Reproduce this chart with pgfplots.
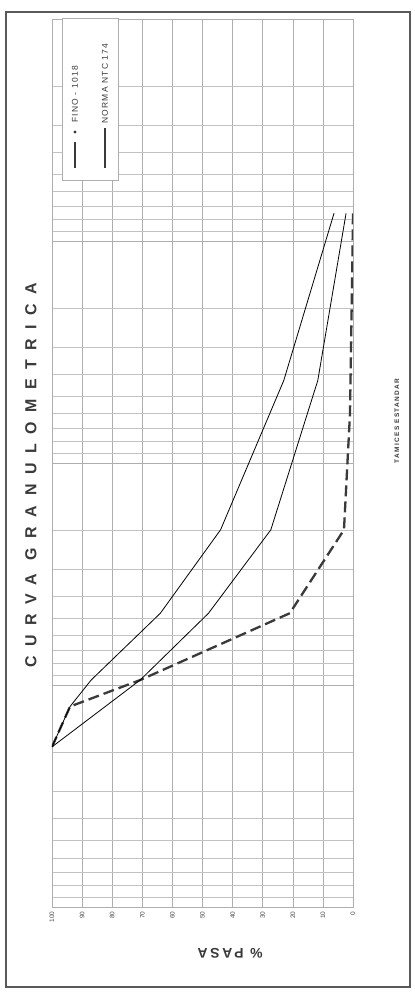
\documentclass[border=0pt]{standalone}
\usepackage{pgfplots}
\pgfplotsset{compat=1.18}
\usepackage{fontspec}
\setmainfont{Liberation Sans}
\newfontfamily\titlefont[LetterSpace=60]{Liberation Sans}
\newfontfamily\legfont[LetterSpace=15]{Liberation Sans}
\newfontfamily\labfont[LetterSpace=20]{Liberation Sans}
\definecolor{ink}{HTML}{3A3A3A}
\definecolor{thin}{HTML}{707070}
\definecolor{gridc}{HTML}{AEAEAE}
\begin{document}
\begin{tikzpicture}[x=1bp,y=1bp]
\useasboundingbox (0,0) rectangle (414,992);
\fill[white] (0,0) rectangle (414,992);
\begin{axis}[
  at={(52bp,85bp)}, anchor=south west,
  scale only axis, width=301bp, height=888bp,
  xmin=0, xmax=100, x dir=reverse,
  ymode=log, ymin=0.01, ymax=100, y dir=reverse,
  xtick={0,10,...,100},
  ytick={0.01,0.1,1,10,100},
  yticklabels={},
  minor ytick={0.02,0.03,0.04,0.05,0.06,0.07,0.08,0.09,0.2,0.3,0.4,0.5,0.6,0.7,0.8,0.9,2,3,4,5,6,7,8,9,20,30,40,50,60,70,80,90},
  xmajorgrids, ymajorgrids, yminorgrids,
  major grid style={gridc, line width=0.6bp},
  minor grid style={gridc!75, line width=0.5bp},
  tick style={draw=none},
  axis line style={gridc, line width=0.6bp},
  /pgf/number format/assume math mode=true,
  xticklabel style={rotate=90, anchor=east, font=\fontsize{6.5}{7}\selectfont, text=black!70, xshift=-1bp},
]
\addplot[ink, line width=2.3bp, dash pattern=on 11bp off 5bp]
  coordinates {(100,19.0) (94,12.5) (70.7,9.5) (21,4.75) (3,2.0) (1,0.6) (0.3,0.15) (0,0.075)};
\addplot[thin, line width=0.8bp]
  coordinates {(100,19.0) (94,12.5) (87,9.5) (64,4.75) (44,2.0) (23,0.425) (6.3,0.075)};
\addplot[thin, line width=0.8bp]
  coordinates {(100,19.0) (70.7,9.5) (48,4.75) (27.3,2.0) (11.7,0.425) (2.3,0.075)};
\end{axis}
% legend box (rotated layout)
\filldraw[fill=white, draw=gridc, line width=0.6bp] (62,812) rectangle (118,974);
\draw[ink, line width=2.3bp] (75,824) -- (75,850);
\fill[ink] (75,860) circle (1.7bp);
\node[rotate=90, anchor=west, inner sep=0pt, font=\legfont\fontsize{8.5}{9}\selectfont, text=ink] at (75,869) {FINO - 1018};
\draw[ink, line width=1.6bp] (105,824) -- (105,864);
\node[rotate=90, anchor=west, inner sep=0pt, font=\legfont\fontsize{8.5}{9}\selectfont, text=ink] at (105,868) {NORMA NTC 174};
% frame and labels
\draw[black!65, line width=1.8bp] (6,5) rectangle (410,980);
\node[rotate=90, font=\titlefont\bfseries\fontsize{16}{18}\selectfont, text=ink] at (31,517) {CURVA\hspace{14bp}GRANULOMETRICA};
\node[rotate=180, font=\labfont\bfseries\fontsize{14}{16}\selectfont, text=ink] at (230,39) {\% PASA};
\node[rotate=90, font=\labfont\bfseries\fontsize{6.5}{7}\selectfont, text=ink] at (397,571) {TAMICES ESTANDAR};
\end{tikzpicture}
\end{document}
